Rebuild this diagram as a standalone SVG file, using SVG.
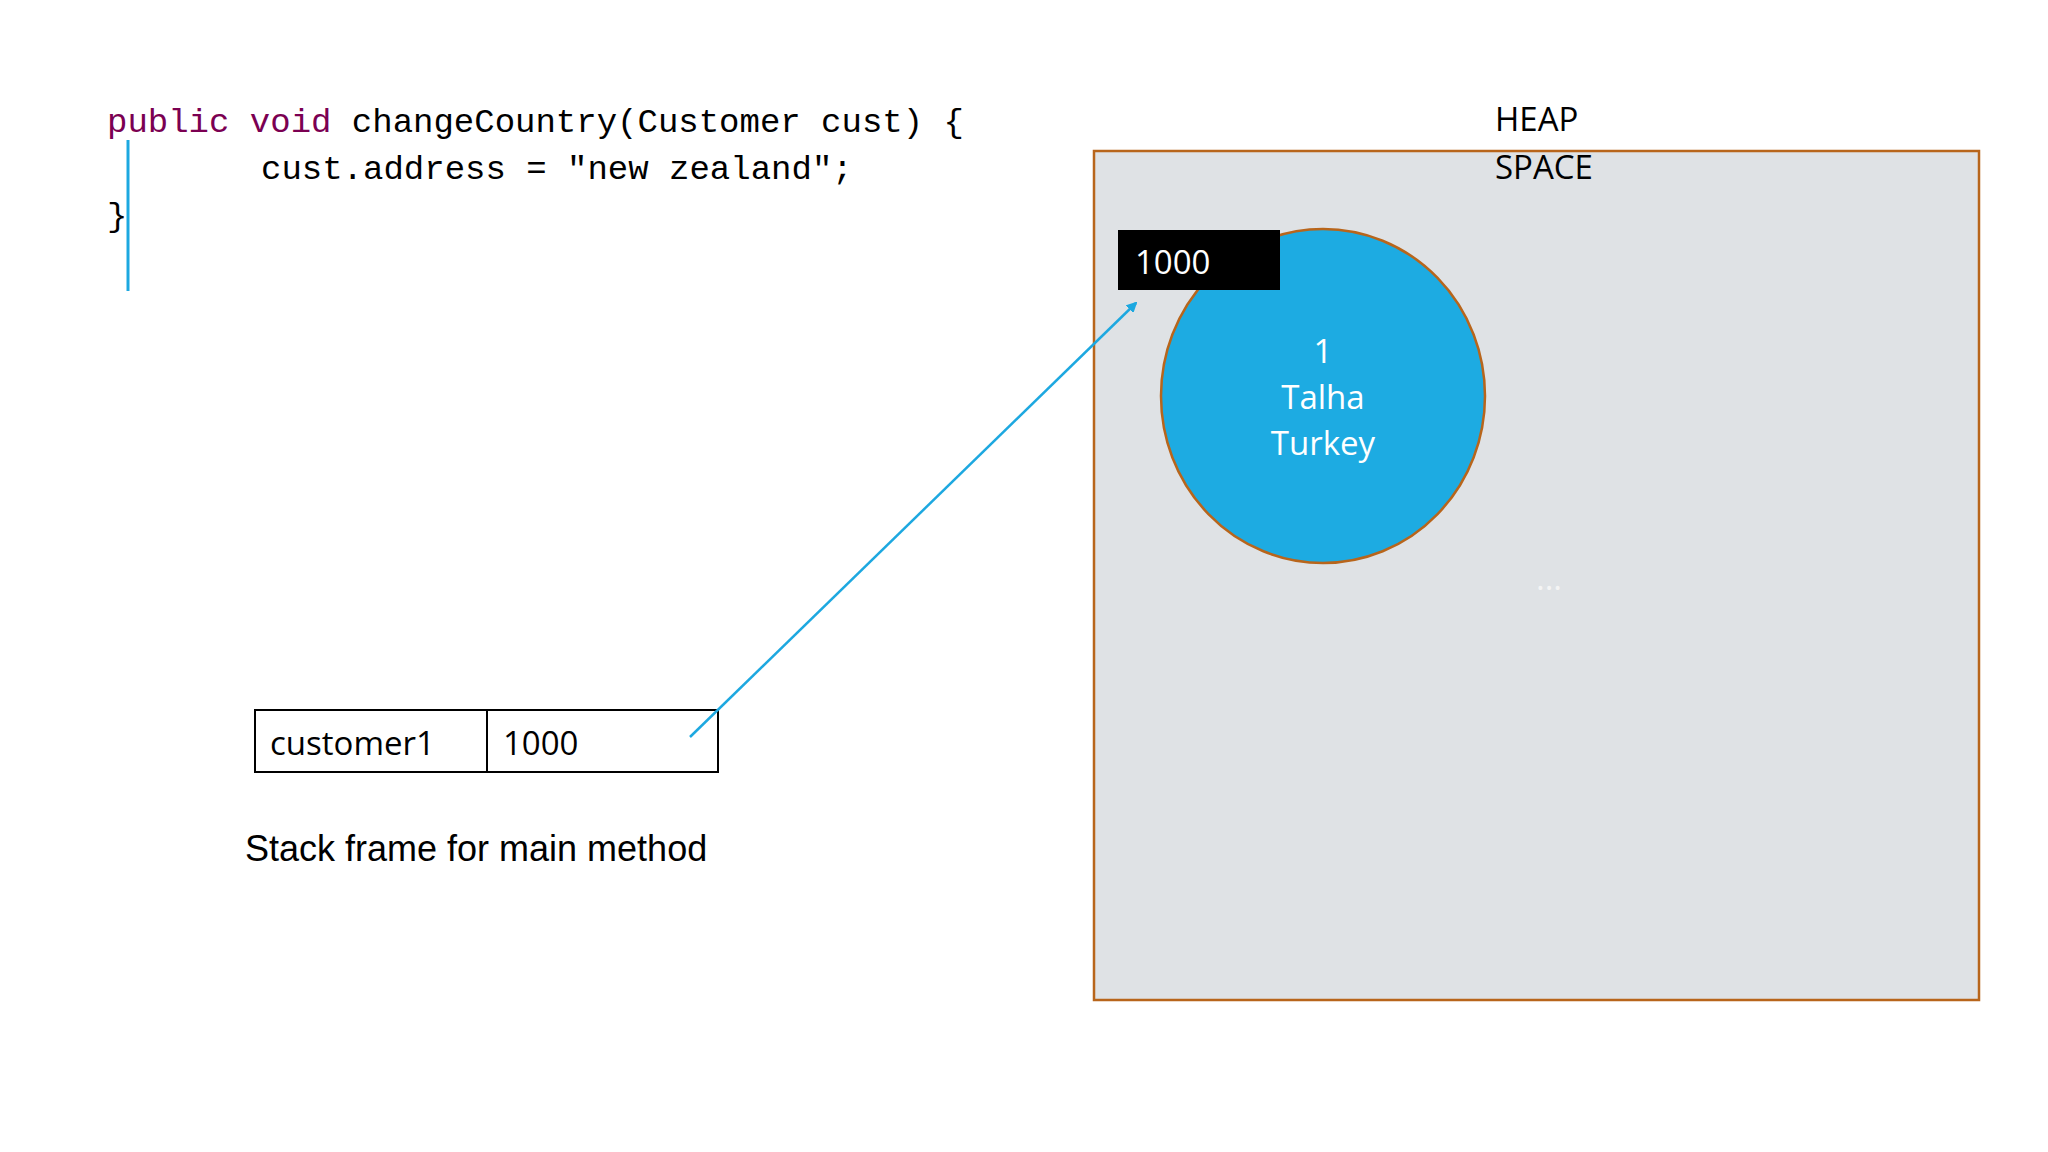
<svg xmlns="http://www.w3.org/2000/svg" width="2048" height="1152" viewBox="0 0 2048 1152">
<style>
.c{font-family:"Liberation Mono",monospace;font-size:34px;fill:#000}
.k{fill:#7B0052}
.s{font-family:"Open Sans","Noto Sans",sans-serif;font-size:33px}
</style>
<defs><marker id="ah" markerWidth="10" markerHeight="10" refX="9" refY="5" orient="auto" markerUnits="userSpaceOnUse"><path d="M0,0 L10,5 L0,10 z" fill="#1DA8E0" transform="scale(2) translate(-4.5,-2.5)"/></marker></defs>
<rect width="2048" height="1152" fill="#fff"/>
<g id="code">
<text class="c" x="107" y="132"><tspan class="k">public void</tspan> changeCountry(Customer cust) {</text>
<text class="c" x="261" y="179">cust.address = "new zealand";</text>
<text class="c" x="107" y="226">}</text>
<line x1="128" y1="140" x2="128" y2="291" stroke="#1DA8E0" stroke-width="3"/>
</g>
<g id="heap">
<rect x="1094" y="151" width="885" height="849" fill="#DFE2E5" stroke="#B8651B" stroke-width="2.5"/>
<text class="s" x="1495" y="131">HEAP</text>
<text class="s" x="1495" y="179">SPACE</text>
<text class="s" x="1536" y="590" fill="#f4f4f4" font-size="22">...</text>
</g>
<g id="object">
<ellipse cx="1323" cy="396" rx="162" ry="167" fill="#1DABE2" stroke="#B8651B" stroke-width="2.5"/>
<text class="s" fill="#fff" text-anchor="middle" x="1323" y="363">1</text>
<text class="s" fill="#fff" text-anchor="middle" x="1323" y="409">Talha</text>
<text class="s" fill="#fff" text-anchor="middle" x="1323" y="455">Turkey</text>
</g>
<g id="address">
<rect x="1118" y="230" width="162" height="60" fill="#000"/>
<text class="s" fill="#fff" x="1135" y="274" font-size="37">1000</text>
</g>
<g id="stack">
<rect x="255" y="710" width="463" height="62" fill="#fff" stroke="#000" stroke-width="2"/>
<line x1="487" y1="710" x2="487" y2="772" stroke="#000" stroke-width="2"/>
<text class="s" x="270" y="755">customer1</text>
<text class="s" x="503" y="755">1000</text>
<text x="245" y="861" font-family="Liberation Sans,Arial,sans-serif" font-size="36">Stack frame for main method</text>
</g>
<g id="connectors">
<line x1="690" y1="737" x2="1136" y2="303" stroke="#1DA8E0" stroke-width="2.5" marker-end="url(#ah)"/>
</g>
</svg>
